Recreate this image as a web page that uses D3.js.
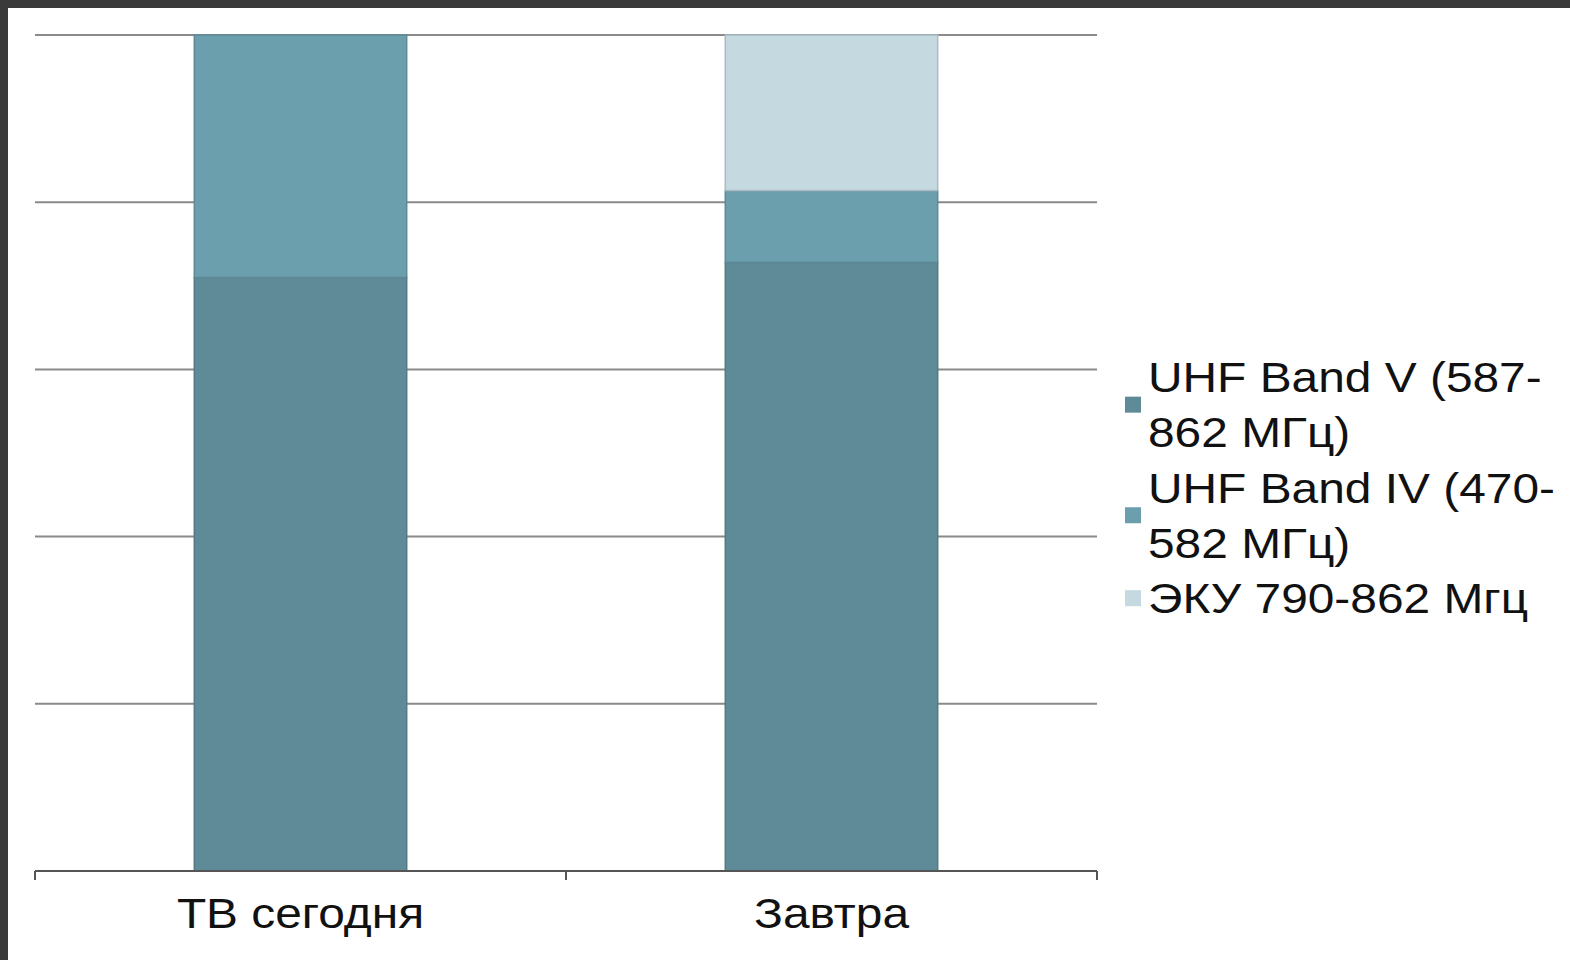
<!DOCTYPE html>
<html>
<head>
<meta charset="utf-8">
<script src="https://cdn.jsdelivr.net/npm/d3@7"></script>
<style>
  html, body { margin: 0; padding: 0; background: #3a3a3a; }
  svg { display: block; }
</style>
</head>
<body>
<svg id="chart" width="1570" height="960"></svg>
<script>
// stacked 100% columns - TV band usage
const categories = ['ТВ сегодня', 'Завтра'];
const seriesNames = ['UHF Band V (587-862 МГц)', 'UHF Band IV (470-582 МГц)', 'ЭКУ 790-862 Мгц'];
const bandV  = [71, 72.8];
const bandIV = [29, 8.6];
const eku    = [0, 18.6];
const yTicks = [0, 20, 40, 60, 80, 100];
const colors = ['#5f8b98', '#6c9fae', '#c4d9e0'];

const svg = d3.select('#chart');
const W = 1570, H = 960;
const font = 'Liberation Sans, Arial, sans-serif';
const stretch = 1.14; // text in the source is horizontally wide

// white slide area inside dark frame
svg.append('rect')
   .attr('x', 8).attr('y', 8)
   .attr('width', W - 8).attr('height', H - 8)
   .attr('fill', '#fff');

const pLeft = 35, pRight = 1097, pTop = 35, pBottom = 871;

const x = d3.scaleBand().domain(categories).range([pLeft, pRight]).paddingInner(0).paddingOuter(0);
const y = d3.scaleLinear().domain([0, 100]).range([pBottom, pTop]);

// grid lines
svg.append('g')
   .selectAll('line')
   .data(yTicks.slice(1))
   .join('line')
   .attr('x1', pLeft).attr('x2', pRight)
   .attr('y1', d => y(d)).attr('y2', d => y(d))
   .attr('stroke', '#8a8a8a')
   .attr('stroke-width', 2);

// stack data
const rows = categories.map((c, i) => ({cat: c, s0: bandV[i], s1: bandIV[i], s2: eku[i]}));
const stack = d3.stack().keys(['s0', 's1', 's2']);
const layers = stack(rows);

const barW = x.bandwidth() * 0.4;
layers.forEach((layer, li) => {
  svg.append('g')
     .selectAll('rect')
     .data(layer.filter(d => d[1] - d[0] > 0))
     .join('rect')
     .attr('x', d => x(d.data.cat) + (x.bandwidth() - barW) / 2)
     .attr('y', d => y(d[1]))
     .attr('width', barW)
     .attr('height', d => y(d[0]) - y(d[1]))
     .attr('fill', colors[li])
     .attr('stroke', d3.color(colors[li]).darker(0.4))
     .attr('stroke-width', 1.5);
});

// x axis
const xAxis = svg.append('g').attr('transform', `translate(0,${pBottom})`);
xAxis.append('line')
   .attr('x1', pLeft).attr('x2', pRight)
   .attr('stroke', '#555').attr('stroke-width', 2);
const tickPos = [pLeft].concat(categories.map(c => x(c) + x.bandwidth()));
xAxis.selectAll('.tick')
   .data(tickPos)
   .join('line')
   .attr('class', 'tick')
   .attr('x1', d => d).attr('x2', d => d)
   .attr('y1', 0).attr('y2', 9)
   .attr('stroke', '#555').attr('stroke-width', 2);
xAxis.selectAll('text')
   .data(categories)
   .join('text')
   .attr('transform', d => `translate(${x(d) + x.bandwidth() / 2},57) scale(${stretch},1)`)
   .attr('text-anchor', 'middle')
   .attr('font-family', font)
   .attr('font-size', '42px')
   .attr('fill', '#111')
   .text(d => d);

// legend
const legend = svg.append('g').attr('font-family', font)
   .attr('font-size', '42px');
const lineH = 55.3;
const maxW = 415;
let baseline = 392;
[0, 1, 2].forEach(si => {
  // wrap label: break after spaces or hyphens
  const tokens = seriesNames[si].match(/[^\s-]+-?\s*|\s+/g);
  const t = legend.append('text')
     .attr('transform', `translate(1148,${baseline}) scale(${stretch},1)`)
     .attr('fill', '#111');
  let lines = [], cur = '';
  const probe = legend.append('text').attr('visibility', 'hidden');
  tokens.forEach(tok => {
    const test = cur + tok;
    probe.text(test.trimEnd());
    if (cur && probe.node().getComputedTextLength() * stretch > maxW) {
      lines.push(cur.trimEnd());
      cur = tok;
    } else cur = test;
  });
  lines.push(cur.trimEnd());
  probe.remove();
  lines.forEach((ln, k) => {
    t.append('tspan').attr('x', 0).attr('y', k * lineH).text(ln);
  });
  const topY = baseline - 30;
  const botY = baseline + (lines.length - 1) * lineH;
  const mid = (topY + botY) / 2;
  legend.append('rect')
     .attr('x', 1125).attr('y', mid - 8)
     .attr('width', 16).attr('height', 16)
     .attr('fill', colors[si]);
  baseline += lines.length * lineH;
});
</script>
</body>
</html>
